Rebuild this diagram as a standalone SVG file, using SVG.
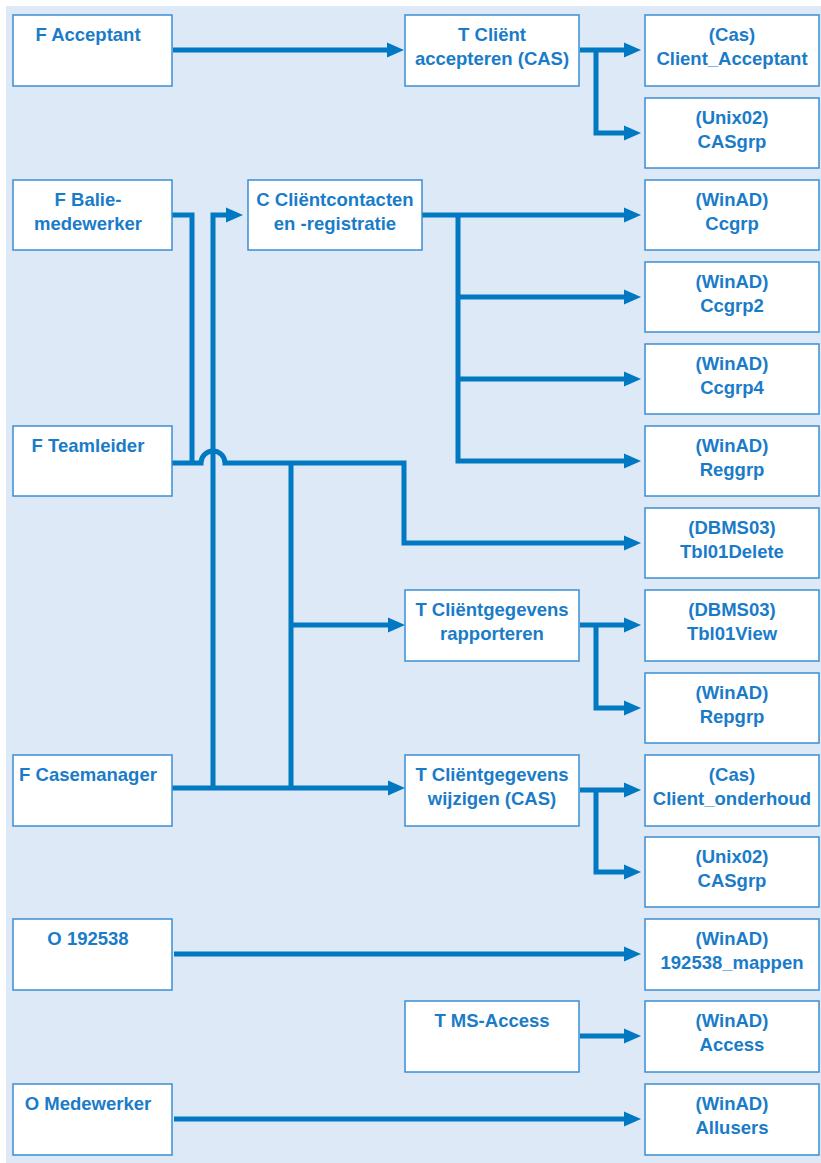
<svg xmlns="http://www.w3.org/2000/svg" width="821" height="1163" viewBox="0 0 821 1163">
<style>
.bg{fill:#dde9f7}
.box{fill:#ffffff;stroke:#3a8fd4;stroke-width:1.5}
.t{font-family:"Liberation Sans",Arial,sans-serif;font-weight:bold;font-size:18.5px;fill:#1a7cc9;text-anchor:middle}
.c{fill:none;stroke:#0078c2;stroke-width:5;stroke-linejoin:miter}
</style>
<defs>
<marker id="ah" markerUnits="userSpaceOnUse" markerWidth="18" markerHeight="16" refX="0" refY="7.5" orient="auto" viewBox="0 0 18 15">
<path d="M0,0 L17,7.5 L0,15 z" fill="#0078c2"/>
</marker>
</defs>
<rect class="bg" x="6" y="6" width="815" height="1157"/>

<g id="connectors">
<path class="c" d="M173,50 H387" marker-end="url(#ah)"/>
<path class="c" d="M580,50 H624" marker-end="url(#ah)"/>
<path class="c" d="M596,50 V133 H624" marker-end="url(#ah)"/>
<path class="c" d="M172,215 H192 V463"/>
<path class="c" d="M172,463 H201 A12,12 0 0 1 225,463 H404 V543 H624" marker-end="url(#ah)"/>
<path class="c" d="M291,463 V788"/>
<path class="c" d="M291,625 H388" marker-end="url(#ah)"/>
<path class="c" d="M172,788 H388" marker-end="url(#ah)"/>
<path class="c" d="M213,788 V215 H226" marker-end="url(#ah)"/>
<path class="c" d="M422,215 H624" marker-end="url(#ah)"/>
<path class="c" d="M458,215 V461 H624" marker-end="url(#ah)"/>
<path class="c" d="M458,297 H624" marker-end="url(#ah)"/>
<path class="c" d="M458,379 H624" marker-end="url(#ah)"/>
<path class="c" d="M580,625 H624" marker-end="url(#ah)"/>
<path class="c" d="M596,625 V708 H624" marker-end="url(#ah)"/>
<path class="c" d="M580,790 H624" marker-end="url(#ah)"/>
<path class="c" d="M596,790 V872 H624" marker-end="url(#ah)"/>
<path class="c" d="M174,954 H624" marker-end="url(#ah)"/>
<path class="c" d="M580,1036 H624" marker-end="url(#ah)"/>
<path class="c" d="M174,1119 H624" marker-end="url(#ah)"/>
</g>

<g id="f-acceptant"><rect class="box" x="13" y="15" width="159" height="71"/><text class="t" x="88" y="41">F Acceptant</text></g>
<g id="f-balie"><rect class="box" x="13" y="180" width="159" height="70"/><text class="t" x="88" y="206">F Balie-</text><text class="t" x="88" y="230">medewerker</text></g>
<g id="f-teamleider"><rect class="box" x="13" y="426" width="159" height="70"/><text class="t" x="88" y="452">F Teamleider</text></g>
<g id="f-casemanager"><rect class="box" x="13" y="755" width="159" height="71"/><text class="t" x="88" y="781">F Casemanager</text></g>
<g id="o-192538"><rect class="box" x="13" y="919" width="159" height="71"/><text class="t" x="88" y="945">O 192538</text></g>
<g id="o-medewerker"><rect class="box" x="13" y="1084" width="159" height="71"/><text class="t" x="88" y="1110">O Medewerker</text></g>

<g id="t-client-accepteren"><rect class="box" x="405" y="15" width="174" height="71"/><text class="t" x="492" y="41">T Cliënt</text><text class="t" x="492" y="65">accepteren (CAS)</text></g>
<g id="c-clientcontacten"><rect class="box" x="248" y="180" width="174" height="70"/><text class="t" x="335" y="206">C Cliëntcontacten</text><text class="t" x="335" y="230">en -registratie</text></g>
<g id="t-rapporteren"><rect class="box" x="405" y="590" width="174" height="71"/><text class="t" x="492" y="616">T Cliëntgegevens</text><text class="t" x="492" y="640">rapporteren</text></g>
<g id="t-wijzigen"><rect class="box" x="405" y="755" width="174" height="71"/><text class="t" x="492" y="781">T Cliëntgegevens</text><text class="t" x="492" y="805">wijzigen (CAS)</text></g>
<g id="t-msaccess"><rect class="box" x="405" y="1001" width="174" height="71"/><text class="t" x="492" y="1027">T MS-Access</text></g>

<g id="r-client-acceptant"><rect class="box" x="645" y="15" width="174" height="71"/><text class="t" x="732" y="41">(Cas)</text><text class="t" x="732" y="65">Client_Acceptant</text></g>
<g id="r-casgrp1"><rect class="box" x="645" y="98" width="174" height="70"/><text class="t" x="732" y="124">(Unix02)</text><text class="t" x="732" y="148">CASgrp</text></g>
<g id="r-ccgrp"><rect class="box" x="645" y="180" width="174" height="70"/><text class="t" x="732" y="206">(WinAD)</text><text class="t" x="732" y="230">Ccgrp</text></g>
<g id="r-ccgrp2"><rect class="box" x="645" y="262" width="174" height="70"/><text class="t" x="732" y="288">(WinAD)</text><text class="t" x="732" y="312">Ccgrp2</text></g>
<g id="r-ccgrp4"><rect class="box" x="645" y="344" width="174" height="70"/><text class="t" x="732" y="370">(WinAD)</text><text class="t" x="732" y="394">Ccgrp4</text></g>
<g id="r-reggrp"><rect class="box" x="645" y="426" width="174" height="70"/><text class="t" x="732" y="452">(WinAD)</text><text class="t" x="732" y="476">Reggrp</text></g>
<g id="r-tbl01delete"><rect class="box" x="645" y="508" width="174" height="70"/><text class="t" x="732" y="534">(DBMS03)</text><text class="t" x="732" y="558">Tbl01Delete</text></g>
<g id="r-tbl01view"><rect class="box" x="645" y="590" width="174" height="71"/><text class="t" x="732" y="616">(DBMS03)</text><text class="t" x="732" y="640">Tbl01View</text></g>
<g id="r-repgrp"><rect class="box" x="645" y="673" width="174" height="70"/><text class="t" x="732" y="699">(WinAD)</text><text class="t" x="732" y="723">Repgrp</text></g>
<g id="r-client-onderhoud"><rect class="box" x="645" y="755" width="174" height="71"/><text class="t" x="732" y="781">(Cas)</text><text class="t" x="732" y="805">Client_onderhoud</text></g>
<g id="r-casgrp2"><rect class="box" x="645" y="837" width="174" height="70"/><text class="t" x="732" y="863">(Unix02)</text><text class="t" x="732" y="887">CASgrp</text></g>
<g id="r-192538-mappen"><rect class="box" x="645" y="919" width="174" height="71"/><text class="t" x="732" y="945">(WinAD)</text><text class="t" x="732" y="969">192538_mappen</text></g>
<g id="r-access"><rect class="box" x="645" y="1001" width="174" height="71"/><text class="t" x="732" y="1027">(WinAD)</text><text class="t" x="732" y="1051">Access</text></g>
<g id="r-allusers"><rect class="box" x="645" y="1084" width="174" height="71"/><text class="t" x="732" y="1110">(WinAD)</text><text class="t" x="732" y="1134">Allusers</text></g>
</svg>
